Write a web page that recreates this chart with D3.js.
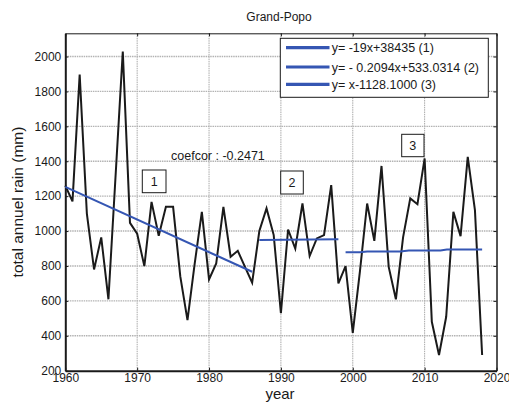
<!DOCTYPE html>
<html>
<head>
<meta charset="utf-8">
<script src="https://cdn.jsdelivr.net/npm/d3@7"></script>
<style>
  html, body { margin: 0; padding: 0; background: #fff; }
  svg { display: block; }
  text { font-family: "Liberation Sans", Arial, Helvetica, sans-serif; fill: #1a1a1a; }
</style>
</head>
<body>
<svg id="chart" width="509" height="412"></svg>
<script>
// Annual rainfall at Grand-Popo, 1960-2018
const years = [1960,1961,1962,1963,1964,1965,1966,1967,1968,1969,
               1970,1971,1972,1973,1974,1975,1976,1977,1978,1979,
               1980,1981,1982,1983,1984,1985,1986,1987,1988,1989,
               1990,1991,1992,1993,1994,1995,1996,1997,1998,1999,
               2000,2001,2002,2003,2004,2005,2006,2007,2008,2009,
               2010,2011,2012,2013,2014,2015,2016,2017,2018];
const rain = [1260,1170,1897,1100,780,964,609,1320,2028,1047,
              985,799,1167,973,1139,1139,740,490,812,1110,
              723,815,1139,853,887,795,704,1000,1130,977,
              529,1009,900,1158,857,958,977,1263,700,799,
              417,770,1158,944,1373,795,609,964,1187,1154,
              1416,480,290,509,1110,971,1425,1120,290];

// Trend segments for the three sub-periods
const trend1Years = [1960, 1986];
const trend1Vals  = [1253, 767];
const trend2Years = [1987, 1998];
const trend2Vals  = [949, 953];
const trend3Years = [1999, 2001, 2002, 2006.6, 2007.8, 2012.2, 2013.1, 2018];
const trend3Vals  = [878, 878, 883, 883, 889, 889, 895, 895];

const legendLabels = ["y= -19x+38435 (1)", "y= - 0.2094x+533.0314 (2)", "y= x-1128.1000 (3)"];
const periodLabels = ["1", "2", "3"];
const xTicks = [1960,1970,1980,1990,2000,2010,2020];
const yTicks = [200,400,600,800,1000,1200,1400,1600,1800,2000];
const xDomain = [1960, 2020];
const yDomain = [200, 2133];

const svg = d3.select("#chart");
const L = 65.3, R = 496.5, T = 33.3, B = 370.7;

const x = d3.scaleLinear().domain(xDomain).range([L, R]);
const y = d3.scaleLinear().domain(yDomain).range([B, T]);

// grid
const grid = svg.append("g");
grid.selectAll("line.gx").data(xTicks.slice(1, -1)).join("line")
  .attr("x1", d => x(d)).attr("x2", d => x(d))
  .attr("y1", T).attr("y2", B)
  .attr("stroke", "#a9a9a9").attr("stroke-width", 1).attr("stroke-dasharray", "1.5,0.8");
grid.selectAll("line.gy").data(yTicks.slice(1)).join("line")
  .attr("x1", L).attr("x2", R)
  .attr("y1", d => y(d)).attr("y2", d => y(d))
  .attr("stroke", "#b3b3b3").attr("stroke-width", 1.4).attr("stroke-dasharray", "1.5,0.8");

// axes (ticks pointing inward on all four sides)
const fmt = d3.format("d");
const axB = d3.axisBottom(x).tickValues(xTicks).tickFormat(fmt).tickSizeInner(-3).tickSizeOuter(0).tickPadding(4);
const axL = d3.axisLeft(y).tickValues(yTicks).tickFormat(fmt).tickSizeInner(-3).tickSizeOuter(0).tickPadding(4);
const axT = d3.axisTop(x).tickValues(xTicks).tickFormat("").tickSizeInner(-3).tickSizeOuter(0);
const axR = d3.axisRight(y).tickValues(yTicks).tickFormat("").tickSizeInner(-3).tickSizeOuter(0);

function styleAxis(g, w) {
  g.select(".domain").attr("stroke", "#1a1a1a").attr("stroke-width", w);
  g.selectAll(".tick line").attr("stroke", "#1a1a1a");
  g.selectAll(".tick text").attr("font-size", 12).attr("fill", "#1a1a1a")
    .style("font-family", '"Liberation Sans", Arial, sans-serif');
}
svg.append("g").attr("transform", `translate(0,${B})`).call(axB).call(g => styleAxis(g, 2))
  .selectAll(".tick text").attr("dy", "0.62em");
svg.append("g").attr("transform", `translate(${L},0)`).call(axL).call(g => styleAxis(g, 2));
svg.append("g").attr("transform", `translate(0,${T})`).call(axT).call(g => styleAxis(g, 1));
svg.append("g").attr("transform", `translate(${R},0)`).call(axR).call(g => styleAxis(g, 1.5));

// rainfall series
const line = d3.line().x(d => x(d[0])).y(d => y(d[1]));
svg.append("path")
  .datum(d3.zip(years, rain))
  .attr("d", line)
  .attr("fill", "none").attr("stroke", "#1a1a1a").attr("stroke-width", 2)
  .attr("stroke-linejoin", "miter");

// trend lines
const blue = "#3556b3";
[[trend1Years, trend1Vals], [trend2Years, trend2Vals], [trend3Years, trend3Vals]].forEach(([ys, vs]) => {
  svg.append("path")
    .datum(d3.zip(ys, vs))
    .attr("d", line)
    .attr("fill", "none").attr("stroke", blue).attr("stroke-width", 2);
});

// correlation note
svg.append("text").attr("x", 171).attr("y", 159.5).attr("font-size", 12.5).text("coefcor : -0.2471");

// period boxes
const boxes = [
  { x0: 142.3, y0: 170, w: 23.7, h: 22.7 },
  { x0: 280.7, y0: 171, w: 22.6, h: 23 },
  { x0: 401.7, y0: 134.3, w: 22.3, h: 22.4 }
];
boxes.forEach((b, i) => {
  svg.append("rect").attr("x", b.x0).attr("y", b.y0).attr("width", b.w).attr("height", b.h)
    .attr("fill", "#fff").attr("stroke", "#1a1a1a").attr("stroke-width", 1);
  svg.append("text").attr("x", b.x0 + b.w / 2).attr("y", b.y0 + b.h / 2 + 4.5)
    .attr("text-anchor", "middle").attr("font-size", 12.5).text(periodLabels[i]);
});

// legend
const lg = svg.append("g");
lg.append("rect").attr("x", 280.3).attr("y", 38.3).attr("width", 208).attr("height", 59)
  .attr("fill", "#fff").attr("stroke", "#1a1a1a").attr("stroke-width", 1);
const legendY = [47.7, 67, 84.3];
legendLabels.forEach((t, i) => {
  lg.append("line").attr("x1", 286).attr("x2", 329.5).attr("y1", legendY[i]).attr("y2", legendY[i])
    .attr("stroke", blue).attr("stroke-width", 3.2);
  lg.append("text").attr("x", 331.7).attr("y", legendY[i] + 4.5).attr("font-size", 12.5).text(t);
});

// title and axis labels
svg.append("text").attr("x", 279).attr("y", 21).attr("text-anchor", "middle").attr("font-size", 12).text("Grand-Popo");
svg.append("text").attr("x", 280).attr("y", 399).attr("text-anchor", "middle").attr("font-size", 15).text("year");
svg.append("text").attr("transform", `translate(23,${(T + B) / 2}) rotate(-90)`)
  .attr("text-anchor", "middle").attr("font-size", 15.5).text("total annuel rain (mm)");
</script>
</body>
</html>
